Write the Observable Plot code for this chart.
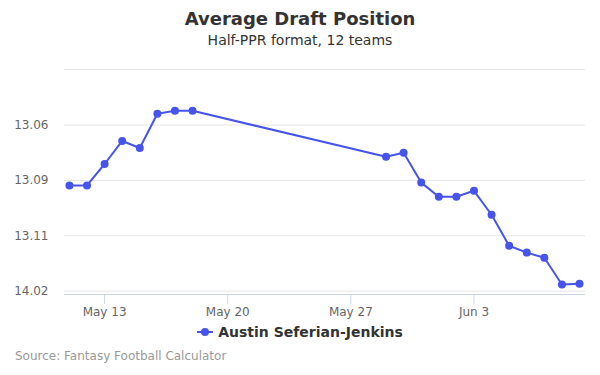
<!DOCTYPE html>
<html>
<head>
<meta charset="utf-8">
<script src="https://cdn.jsdelivr.net/npm/d3@7"></script>
<script src="https://cdn.jsdelivr.net/npm/@observablehq/plot@0.6"></script>
<style>
  html, body { margin: 0; padding: 0; background: #fff; }
  body { width: 600px; height: 375px; position: relative; overflow: hidden; font-family: "DejaVu Sans", sans-serif; }
  #title { position: absolute; left: 0; width: 600px; top: 8px; text-align: center; font-size: 18px; line-height: 22px; font-weight: bold; color: #333; }
  #subtitle { position: absolute; left: 0; width: 600px; top: 31px; text-align: center; font-size: 14px; line-height: 18px; color: #333; }
  #chart { position: absolute; left: 0; top: 50px; }
  #legend { position: absolute; left: 0; width: 600px; top: 323px; text-align: center; font-size: 14px; line-height: 18px; font-weight: bold; color: #333; }
  #legend svg { vertical-align: middle; margin-right: 5px; position: relative; top: -1px; }
  #caption { position: absolute; left: 15px; top: 349px; font-size: 12px; color: #999; }
</style>
</head>
<body>
<div id="title">Average Draft Position</div>
<div id="subtitle">Half-PPR format, 12 teams</div>
<div id="chart"></div>
<div id="legend"><svg width="16" height="10"><line x1="0" y1="5" x2="16" y2="5" stroke="#4754eb" stroke-width="2"/><circle cx="8" cy="5" r="4" fill="#4754eb"/></svg>Austin Seferian-Jenkins</div>
<div id="caption">Source: Fantasy Football Calculator</div>
<script>
const dates = ["2018-05-11","2018-05-12","2018-05-13","2018-05-14","2018-05-15","2018-05-16","2018-05-17","2018-05-18",
  "2018-05-29","2018-05-30","2018-05-31","2018-06-01","2018-06-02","2018-06-03","2018-06-04","2018-06-05","2018-06-06","2018-06-07","2018-06-08","2018-06-09"];
const adp = [152.73,152.73,151.76,150.72,151.04,149.49,149.36,149.36,
  151.43,151.25,152.60,153.24,153.24,152.97,154.05,155.45,155.76,155.99,157.20,157.16];
const yTicks = [150, 152.5, 155, 157.5];
const yTickLabels = ["13.06","13.09","13.11","14.02"];
const xTicks = ["2018-05-13","2018-05-20","2018-05-27","2018-06-03"];
const xTickLabels = ["May 13","May 20","May 27","Jun 3"];
const player = "Austin Seferian-Jenkins";

const data = dates.map((d, i) => ({date: new Date(d + "T00:00:00Z"), adp: adp[i]}));
const xTickDates = xTicks.map(d => new Date(d + "T00:00:00Z"));
const day = 864e5;
const color = "#4754eb";

const chart = Plot.plot({
  width: 600,
  height: 270,
  marginTop: 18,
  marginBottom: 26,
  marginLeft: 64,
  marginRight: 15,
  style: {fontFamily: "DejaVu Sans, sans-serif", fontSize: "12px", color: "#666", background: "transparent"},
  x: {
    type: "utc",
    domain: [new Date(data[0].date.getTime() - 0.28 * day), new Date(data[data.length - 1].date.getTime() + 0.34 * day)],
    ticks: xTickDates,
    tickFormat: d => xTickLabels[xTickDates.findIndex(t => +t === +d)],
    label: null
  },
  y: {
    domain: [147.45, 157.65],
    reverse: true,
    ticks: yTicks,
    tickFormat: v => yTickLabels[yTicks.indexOf(v)],
    label: null
  },
  marks: [
    Plot.gridY([147.5, ...yTicks], {stroke: "#e6e6e6", strokeOpacity: 1, strokeWidth: 1}),
    Plot.ruleY([157.65], {stroke: "#ccd6eb", strokeWidth: 1}),
    Plot.axisY({ticks: yTicks, tickFormat: v => yTickLabels[yTicks.indexOf(v)], tickSize: 0, tickPadding: 16, fill: "#666", fontSize: 12}),
    Plot.axisX({ticks: xTickDates, tickFormat: d => xTickLabels[xTickDates.findIndex(t => +t === +d)], tickSize: 10, tickPadding: 3, stroke: "#ccd6eb", fill: "#666", fontSize: 12}),
    Plot.line(data, {x: "date", y: "adp", stroke: color, strokeWidth: 2}),
    Plot.dot(data, {x: "date", y: "adp", r: 4, fill: color, stroke: "none"})
  ]
});
document.getElementById("chart").appendChild(chart);
</script>
</body>
</html>
